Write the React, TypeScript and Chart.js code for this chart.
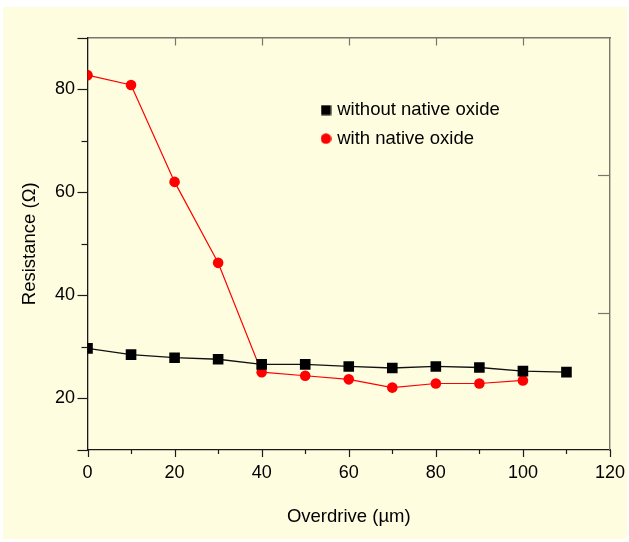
import React, { useEffect, useRef } from "react";
import { Chart, registerables } from "chart.js";

Chart.register(...registerables);

// ---- data ----
const overdriveWithout = [0, 10, 20, 30, 40, 50, 60, 70, 80, 90, 100, 110];
const resistanceWithout = [29.7, 28.5, 27.9, 27.6, 26.6, 26.6, 26.2, 25.9, 26.2, 26.0, 25.3, 25.1];
const overdriveWith = [0, 10, 20, 30, 40, 50, 60, 70, 80, 90, 100];
const resistanceWith = [82.7, 80.8, 62.0, 46.3, 25.1, 24.4, 23.7, 22.1, 22.9, 22.9, 23.5];

const seriesLabels = ["without native oxide", "with native oxide"];
const xTickLabels = [0, 20, 40, 60, 80, 100, 120];
const yTickLabels = [20, 40, 60, 80];
const topTickValues = [20, 40, 60, 80, 100];
const rightTickValues = [1, 2];

const FONT = "'Liberation Sans', Arial, Helvetica, sans-serif";

function makeMarker(kind: "rect" | "circle", color: string): HTMLCanvasElement {
  const c = document.createElement("canvas");
  c.width = 11;
  c.height = 11;
  const g = c.getContext("2d")!;
  g.fillStyle = color;
  if (kind === "rect") {
    g.fillRect(0.5, 0.5, 10, 10);
  } else {
    g.beginPath();
    g.arc(5.5, 5.5, 5.3, 0, Math.PI * 2);
    g.fill();
  }
  return c;
}

const tickPlugin = {
  id: "customTicks",
  afterDraw(chart: any) {
    const { ctx, chartArea, scales } = chart;
    ctx.save();
    ctx.lineWidth = 1.2;
    // left y ticks (outward)
    ctx.strokeStyle = "#1a1a1a";
    scales.y.ticks.forEach((t: any) => {
      const py = Math.round(scales.y.getPixelForValue(t.value)) + 0.5;
      const major = yTickLabels.includes(t.value) || t.value === scales.y.min || t.value === scales.y.max;
      const len = major ? 10 : 6;
      ctx.beginPath();
      ctx.moveTo(chartArea.left - len, py);
      ctx.lineTo(chartArea.left, py);
      ctx.stroke();
    });
    // bottom x ticks (outward)
    scales.x.ticks.forEach((t: any) => {
      const px = Math.round(scales.x.getPixelForValue(t.value)) + 0.5;
      const len = xTickLabels.includes(t.value) ? 7 : 4;
      ctx.beginPath();
      ctx.moveTo(px, chartArea.bottom);
      ctx.lineTo(px, chartArea.bottom + len);
      ctx.stroke();
    });
    // top ticks (inward)
    ctx.strokeStyle = "#77776c";
    topTickValues.forEach((v) => {
      const px = Math.round(scales.x2.getPixelForValue(v)) + 0.5;
      ctx.beginPath();
      ctx.moveTo(px, chartArea.top);
      ctx.lineTo(px, chartArea.top + 8);
      ctx.stroke();
    });
    // right ticks (inward)
    rightTickValues.forEach((v) => {
      const py = Math.round(scales.y2.getPixelForValue(v)) + 0.5;
      ctx.beginPath();
      ctx.moveTo(chartArea.right - 12, py);
      ctx.lineTo(chartArea.right, py);
      ctx.stroke();
    });
    ctx.restore();
  },
};

const legendPlacePlugin = {
  id: "legendPlace",
  afterLayout(chart: any) {
    const lg = chart.legend;
    if (!lg) return;
    const w = lg.width;
    const h = lg.height;
    lg.left = 311;
    lg.top = 83.85;
    lg.right = lg.left + w;
    lg.bottom = lg.top + h;
  },
};

export default function App() {
  const ref = useRef<HTMLCanvasElement | null>(null);

  useEffect(() => {
    if (!ref.current) return;
    const markers = [makeMarker("rect", "#000000"), makeMarker("circle", "#ff0000")];
    const chart = new Chart(ref.current, {
      type: "line",
      data: {
        datasets: [
          {
            label: seriesLabels[0],
            data: overdriveWithout.map((x, i) => ({ x, y: resistanceWithout[i] })),
            borderColor: "#111111",
            backgroundColor: "#000000",
            borderWidth: 1.3,
            pointStyle: "rect",
            pointRadius: 7.5,
            pointBorderWidth: 0,
            pointBackgroundColor: "#000000",
            tension: 0,
            xAxisID: "x",
            yAxisID: "y",
          },
          {
            label: seriesLabels[1],
            data: overdriveWith.map((x, i) => ({ x, y: resistanceWith[i] })),
            borderColor: "#ff0000",
            backgroundColor: "#ff0000",
            borderWidth: 1.2,
            pointStyle: "circle",
            pointRadius: 5.3,
            pointBorderWidth: 0,
            pointBackgroundColor: "#ff0000",
            tension: 0,
            xAxisID: "x",
            yAxisID: "y",
          },
        ],
      },
      options: {
        animation: false,
        responsive: false,
        maintainAspectRatio: false,
        layout: { padding: 0 },
        events: [],
        scales: {
          x: {
            type: "linear",
            position: "bottom",
            min: 0,
            max: 120,
            grid: { display: false, drawTicks: false },
            border: { display: true, color: "#1a1a1a", width: 1.3 },
            ticks: {
              stepSize: 10,
              autoSkip: false,
              maxRotation: 0,
              padding: 12,
              color: "#000",
              font: { family: FONT, size: 18 },
              callback: (v: any) => (xTickLabels.includes(Number(v)) ? String(v) : ""),
            },
            title: {
              display: true,
              text: "Overdrive (µm)",
              color: "#000",
              font: { family: FONT, size: 18.5 },
              padding: { top: 0, bottom: 11.3 },
            },
            afterFit: (s: any) => {
              s.height = 89;
              s.paddingLeft = 0;
              s.paddingRight = 0;
            },
          },
          x2: {
            type: "linear",
            position: "top",
            min: 0,
            max: 120,
            grid: { display: false, drawTicks: false },
            border: { display: true, color: "#77776c", width: 1.6 },
            ticks: { display: false },
            afterFit: (s: any) => {
              s.height = 30.5;
              s.paddingLeft = 0;
              s.paddingRight = 0;
            },
          },
          y: {
            type: "linear",
            position: "left",
            min: 10,
            max: 90,
            grid: { display: false, drawTicks: false },
            border: { display: true, color: "#1a1a1a", width: 1.3 },
            ticks: {
              stepSize: 10,
              autoSkip: false,
              padding: 12.5,
              color: "#000",
              font: { family: FONT, size: 18 },
              callback: (v: any) => (yTickLabels.includes(Number(v)) ? String(v) : ""),
            },
            title: {
              display: true,
              text: "Resistance (Ω)",
              color: "#000",
              font: { family: FONT, size: 18.5 },
              padding: { top: 15.9, bottom: 0 },
            },
            afterFit: (s: any) => {
              s.width = 84.5;
              s.paddingTop = 0;
              s.paddingBottom = 0;
            },
          },
          y2: {
            type: "linear",
            position: "right",
            min: 0,
            max: 3,
            grid: { display: false, drawTicks: false },
            border: { display: true, color: "#77776c", width: 1.4 },
            ticks: { display: false, stepSize: 1 },
            afterFit: (s: any) => {
              s.width = 17;
              s.paddingTop = 0;
              s.paddingBottom = 0;
            },
          },
        },
        plugins: {
          tooltip: { enabled: false },
          legend: {
            display: true,
            position: "chartArea",
            align: "start",
            labels: {
              usePointStyle: true,
              boxWidth: 4,
              boxHeight: 10,
              padding: 10,
              color: "#000",
              font: { family: FONT, size: 18.5 },
              generateLabels: (ch: any) =>
                ch.data.datasets.map((ds: any, i: number) => ({
                  text: ds.label,
                  pointStyle: markers[i],
                  fillStyle: ds.backgroundColor,
                  strokeStyle: ds.backgroundColor,
                  lineWidth: 0,
                  hidden: false,
                  datasetIndex: i,
                  fontColor: "#000",
                })),
            },
          },
        },
      },
      plugins: [tickPlugin, legendPlacePlugin],
    } as any);
    return () => chart.destroy();
  }, []);

  return (
    <div
      style={{
        position: "absolute",
        left: 3,
        top: 7,
        width: 624,
        height: 532,
        background: "#FFFDE0",
      }}
    >
      <canvas ref={ref} width={624} height={532} style={{ display: "block" }} />
    </div>
  );
}
